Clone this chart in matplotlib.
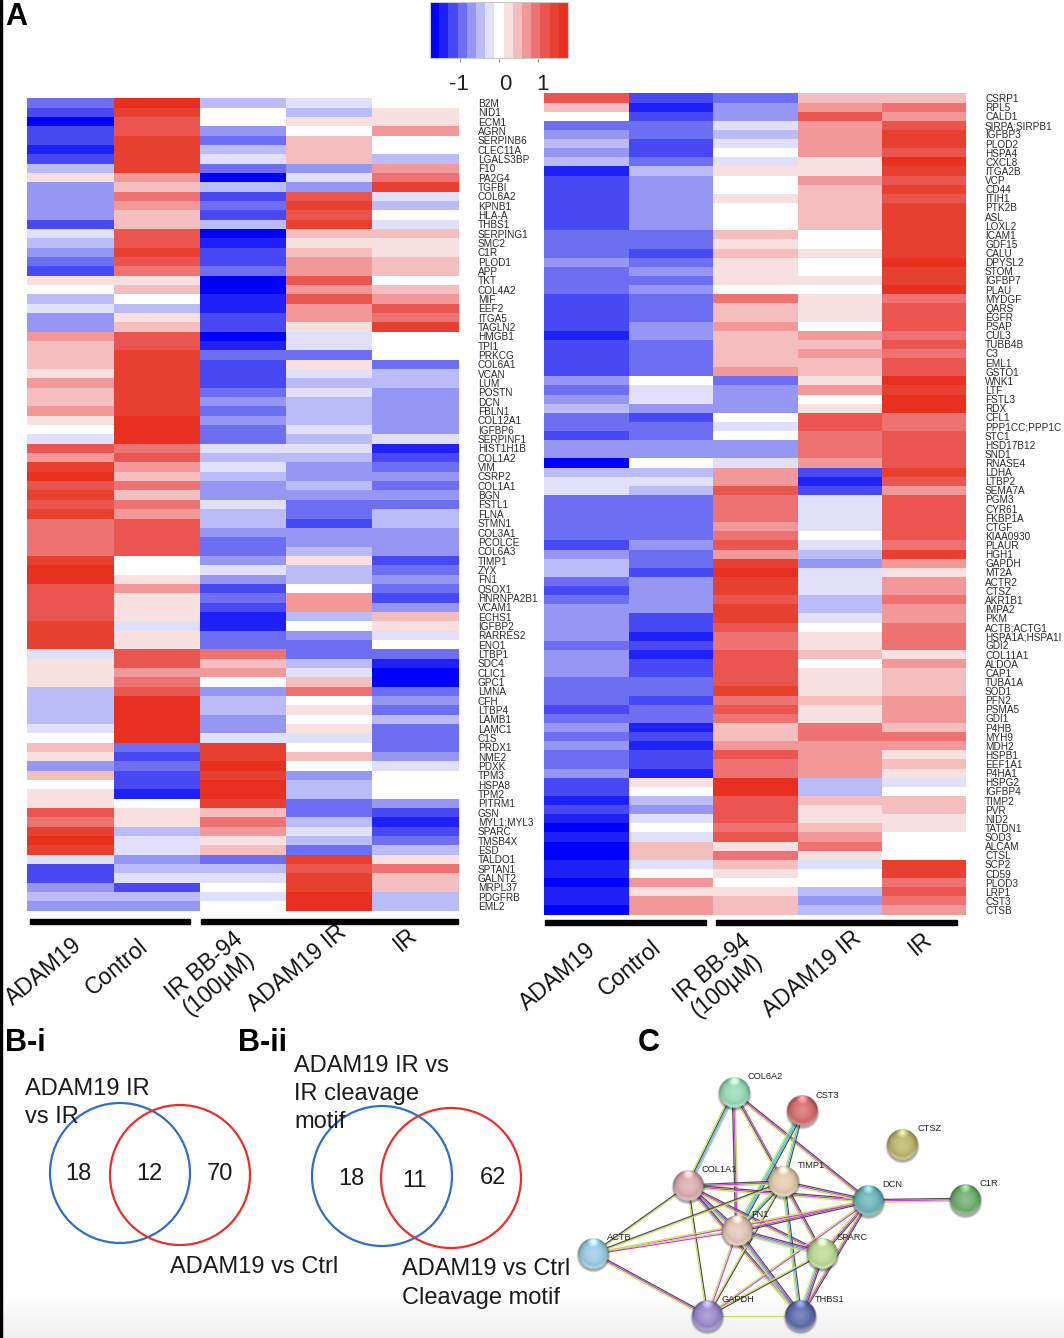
import numpy as np
import matplotlib
matplotlib.use("Agg")
import matplotlib.pyplot as plt
from matplotlib.colors import ListedColormap, Normalize
from matplotlib.patches import Circle, Rectangle

plt.rcParams['font.family'] = ['Liberation Sans', 'DejaVu Sans']

W, H = 1064, 1338

# Heatmap values are the colour bin of each cell, 7 is the white (zero) bin
left_genes = [
    "B2M", "NID1", "ECM1", "AGRN", "SERPINB6", "CLEC11A", "LGALS3BP", "F10", "PA2G4", "TGFBI",
    "COL6A2", "KPNB1", "HLA-A", "THBS1", "SERPING1", "SMC2", "C1R", "PLOD1", "APP", "TKT",
    "COL4A2", "MIF", "EEF2", "ITGA5", "TAGLN2", "HMGB1", "TPI1", "PRKCG", "COL6A1", "VCAN",
    "LUM", "POSTN", "DCN", "FBLN1", "COL12A1", "IGFBP6", "SERPINF1", "HIST1H1B", "COL1A2", "VIM",
    "CSRP2", "COL1A1", "BGN", "FSTL1", "FLNA", "STMN1", "COL3A1", "PCOLCE", "COL6A3", "TIMP1",
    "ZYX", "FN1", "QSOX1", "HNRNPA2B1", "VCAM1", "ECHS1", "IGFBP2", "RARRES2", "ENO1", "LTBP1",
    "SDC4", "CLIC1", "GPC1", "LMNA", "CFH", "LTBP4", "LAMB1", "LAMC1", "C1S", "PRDX1",
    "NME2", "PDXK", "TPM3", "HSPA8", "TPM2", "PITRM1", "GSN", "MYL1;MYL3", "SPARC", "TMSB4X",
    "ESD", "TALDO1", "SPTAN1", "GALNT2", "MRPL37", "PDGFRB", "EML2",
]
left_adam19 = [
    3, 2, 0, 2, 2, 1, 2, 5, 8, 4, 4, 4, 4, 2, 6, 5, 4, 3, 2, 8, 7, 5, 6, 4, 4, 10, 9, 9, 9, 8,
    10, 9, 9, 10, 8, 7, 6, 12, 10, 13, 14, 12, 13, 12, 13, 11, 11, 11, 11, 13, 14, 14, 12, 12, 12, 12, 13, 13, 13, 6,
    8, 8, 8, 5, 5, 5, 5, 6, 7, 9, 8, 4, 9, 7, 8, 8, 12, 11, 13, 14, 13, 6, 2, 2, 4, 5, 4,
]
left_control = [
    14, 13, 12, 12, 13, 13, 13, 13, 10, 9, 11, 10, 9, 9, 12, 12, 13, 12, 11, 8, 9, 7, 5, 8, 9, 12, 12, 13, 13, 13,
    13, 13, 13, 13, 14, 14, 14, 11, 12, 10, 9, 11, 9, 11, 10, 12, 12, 12, 12, 7, 7, 8, 10, 8, 8, 8, 6, 8, 8, 12,
    12, 10, 11, 12, 14, 14, 14, 14, 14, 3, 2, 3, 2, 2, 1, 7, 8, 8, 5, 6, 6, 4, 5, 6, 2, 5, 4,
]
left_ir_bb94 = [
    5, 7, 7, 4, 3, 5, 6, 3, 0, 5, 2, 3, 2, 5, 0, 1, 2, 2, 3, 0, 0, 1, 1, 2, 2, 0, 1, 3, 2, 2,
    2, 3, 4, 3, 4, 3, 3, 6, 5, 6, 5, 4, 4, 6, 5, 5, 4, 3, 3, 4, 6, 4, 2, 3, 2, 1, 1, 3, 3, 11,
    9, 10, 7, 4, 5, 5, 4, 4, 6, 13, 13, 14, 13, 14, 14, 13, 9, 11, 10, 8, 9, 3, 5, 6, 7, 6, 7,
]
left_adam19_ir = [
    6, 5, 8, 7, 9, 9, 9, 4, 6, 4, 12, 13, 12, 13, 9, 8, 9, 10, 10, 12, 10, 12, 10, 10, 8, 6, 6, 3, 8, 6,
    5, 6, 5, 5, 5, 6, 5, 6, 5, 4, 4, 5, 4, 3, 3, 2, 4, 4, 5, 8, 5, 5, 7, 10, 10, 5, 7, 4, 3, 3,
    5, 6, 9, 11, 7, 8, 7, 8, 6, 7, 9, 7, 4, 5, 5, 3, 3, 5, 6, 5, 3, 13, 12, 13, 13, 14, 14,
]
left_ir = [
    7, 8, 8, 10, 7, 7, 5, 10, 11, 13, 6, 5, 7, 6, 9, 8, 8, 9, 9, 7, 9, 10, 12, 11, 13, 7, 7, 7, 3, 5,
    5, 4, 4, 4, 4, 4, 6, 1, 2, 3, 4, 3, 4, 3, 5, 5, 4, 4, 4, 2, 3, 4, 3, 2, 4, 9, 8, 6, 7, 3,
    1, 0, 0, 3, 4, 3, 5, 3, 3, 3, 4, 6, 7, 7, 7, 4, 2, 1, 2, 3, 5, 8, 11, 9, 9, 5, 5,
]

right_genes = [
    "CSRP1", "RPL5", "CALD1", "SIRPA;SIRPB1", "IGFBP3", "PLOD2", "HSPA4", "CXCL8", "ITGA2B", "VCP",
    "CD44", "ITIH1", "PTK2B", "ASL", "LOXL2", "ICAM1", "GDF15", "CALU", "DPYSL2", "STOM",
    "IGFBP7", "PLAU", "MYDGF", "QARS", "EGFR", "PSAP", "CUL3", "TUBB4B", "C3", "EML1",
    "GSTO1", "WNK1", "LTF", "FSTL3", "RDX", "CFL1", "PPP1CC;PPP1C", "STC1", "HSD17B12", "SND1",
    "RNASE4", "LDHA", "LTBP2", "SEMA7A", "PGM3", "CYR61", "FKBP1A", "CTGF", "KIAA0930", "PLAUR",
    "HGH1", "GAPDH", "MT2A", "ACTR2", "CTSZ", "AKR1B1", "IMPA2", "PKM", "ACTB;ACTG1", "HSPA1A;HSPA1I",
    "GDI2", "COL11A1", "ALDOA", "CAP1", "TUBA1A", "SOD1", "PFN2", "PSMA5", "GDI1", "P4HB",
    "MYH9", "MDH2", "HSPB1", "EEF1A1", "P4HA1", "HSPG2", "IGFBP4", "TIMP2", "PVR", "NID2",
    "TATDN1", "SOD3", "ALCAM", "CTSL", "SCP2", "CD59", "PLOD3", "LRP1", "CST3", "CTSB",
]
right_adam19 = [
    12, 9, 7, 3, 4, 5, 4, 5, 1, 2, 2, 2, 2, 2, 2, 3, 3, 3, 4, 3, 3, 3, 2, 2, 2, 2, 1, 2, 2, 2,
    2, 4, 3, 4, 5, 3, 3, 2, 4, 4, 0, 5, 6, 6, 3, 3, 3, 3, 3, 2, 4, 5, 5, 3, 2, 3, 4, 4, 4, 4,
    3, 4, 4, 4, 3, 3, 3, 2, 3, 4, 3, 4, 3, 3, 4, 2, 2, 1, 2, 1, 0, 1, 0, 0, 1, 1, 0, 1, 1, 0,
]
right_control = [
    2, 1, 2, 3, 3, 2, 2, 3, 5, 4, 4, 4, 4, 4, 4, 3, 3, 2, 3, 4, 3, 4, 3, 3, 3, 4, 4, 3, 3, 3,
    3, 7, 6, 6, 4, 2, 3, 3, 4, 4, 7, 5, 6, 5, 3, 3, 3, 3, 3, 4, 3, 3, 2, 4, 4, 4, 4, 2, 2, 1,
    2, 1, 2, 2, 3, 3, 2, 3, 3, 1, 2, 1, 2, 2, 1, 8, 7, 5, 4, 6, 7, 6, 9, 9, 6, 7, 10, 8, 10, 10,
]
right_ir_bb94 = [
    3, 4, 4, 6, 5, 6, 7, 6, 8, 7, 7, 8, 7, 7, 7, 9, 8, 9, 8, 8, 8, 7, 11, 9, 9, 10, 9, 9, 9, 9,
    10, 3, 4, 4, 4, 7, 6, 7, 4, 4, 6, 10, 10, 12, 11, 11, 11, 10, 11, 12, 10, 13, 14, 13, 13, 12, 13, 13, 12, 11,
    11, 12, 12, 12, 12, 13, 11, 12, 11, 9, 9, 10, 12, 11, 11, 14, 14, 12, 12, 12, 11, 12, 8, 11, 9, 8, 7, 8, 9, 9,
]
right_adam19_ir = [
    9, 10, 12, 10, 10, 10, 10, 8, 8, 10, 9, 9, 9, 9, 9, 7, 7, 8, 7, 7, 8, 7, 8, 8, 8, 7, 10, 9, 10, 9,
    9, 8, 10, 7, 8, 12, 12, 11, 11, 11, 10, 2, 1, 2, 6, 6, 6, 6, 7, 6, 5, 4, 6, 6, 6, 5, 5, 6, 7, 8,
    8, 9, 7, 8, 8, 8, 9, 8, 8, 11, 11, 10, 10, 10, 10, 5, 5, 9, 8, 8, 9, 10, 11, 8, 6, 7, 7, 5, 4, 5,
]
right_ir = [
    9, 11, 10, 12, 13, 13, 12, 14, 13, 12, 13, 12, 13, 13, 13, 13, 13, 13, 14, 13, 13, 14, 11, 12, 12, 12, 11, 12, 11, 12,
    12, 14, 13, 14, 14, 11, 11, 12, 12, 12, 12, 13, 12, 10, 12, 12, 12, 12, 12, 11, 13, 10, 8, 10, 10, 11, 10, 10, 11, 11,
    11, 8, 10, 9, 9, 9, 10, 10, 10, 9, 11, 10, 8, 9, 8, 6, 7, 9, 9, 8, 8, 7, 7, 7, 13, 13, 11, 12, 11, 10,
]

group_labels = ["ADAM19", "Control", "IR BB-94\n(100µM)", "ADAM19 IR", "IR"]
colorbar_ticks = [-1, 0, 1]

# Venn counts: only first, overlap, only second
venn_i = [18, 12, 70]
venn_ii = [18, 11, 62]

# STRING network
node_names = ["COL6A2", "CST3", "CTSZ", "COL1A1", "TIMP1", "DCN", "C1R", "FN1", "ACTB", "SPARC", "GAPDH", "THBS1"]
node_colors = ["#8fd8b0", "#d25f5f", "#b8b05f", "#d8a6a8", "#e2c8a8", "#5fb0b2", "#62a862", "#e2c0ae",
               "#90c8e2", "#b8d88e", "#9080c8", "#4f5fa8"]
G, M, K, C, L = "#c8e05a", "#d040e0", "#505050", "#50c0e0", "#b0b0f0"
edges = [
    ("COL6A2", "COL1A1", [L, C, K, G]), ("COL6A2", "FN1", [G, M, K]), ("COL6A2", "TIMP1", [M, K, G]),
    ("COL6A2", "DCN", [K, M, G]), ("CST3", "TIMP1", [K, C, G]), ("CST3", "FN1", [K, C, C, G]),
    ("COL1A1", "TIMP1", [K, M, G]), ("COL1A1", "DCN", [K, M, G]), ("COL1A1", "FN1", [K, M, C, G]),
    ("COL1A1", "SPARC", [K, M, G]), ("COL1A1", "THBS1", [K, M, G]), ("COL1A1", "ACTB", [G, K]),
    ("COL1A1", "GAPDH", [K, G]), ("TIMP1", "DCN", [K, M, G]), ("TIMP1", "FN1", [K, C, G]),
    ("TIMP1", "SPARC", [K, M, G]), ("TIMP1", "THBS1", [K, C, G]), ("TIMP1", "ACTB", [G, K]),
    ("TIMP1", "GAPDH", [K, G]), ("DCN", "C1R", [K, M, G]), ("DCN", "FN1", [K, M, G]),
    ("DCN", "SPARC", [K, M, G]), ("DCN", "THBS1", [K, M, G]), ("DCN", "GAPDH", [M, G]),
    ("DCN", "ACTB", [M, G]), ("FN1", "SPARC", [K, M, C, G]), ("FN1", "THBS1", [K, M, C, G]),
    ("FN1", "ACTB", [M, G]), ("FN1", "GAPDH", [M, G]), ("SPARC", "THBS1", [K, M, C, G]),
    ("SPARC", "GAPDH", [K, G]), ("ACTB", "GAPDH", [K, M, G]), ("GAPDH", "THBS1", [G]),
]

# Layout of the network, in image pixels
node_x = [733.7, 802, 902.3, 687.7, 783.3, 868.3, 965, 737, 593, 822, 707.3, 800.3]
node_y = [1092.7, 1111, 1144.7, 1186.3, 1182.3, 1201, 1199.7, 1231, 1253.7, 1253.7, 1316, 1316]
label_x = [748, 816, 917, 702, 797.7, 882, 979, 751, 607, 836.7, 721.7, 815]
label_y = [1076.5, 1095, 1128.5, 1170, 1166, 1184.5, 1183, 1214.5, 1237.5, 1237.5, 1299, 1299]

bin_colors = ["#0000ff", "#2020f8", "#4848f5", "#6e6ef2", "#9696f5", "#bbbbf7", "#e0e0fa", "#ffffff",
              "#f8e0e0", "#f4bebe", "#f29898", "#ee7272", "#ea5550", "#e84030", "#e83020"]
cmap = ListedColormap(bin_colors)
z_limit = 1.79
bin_width = 2 * z_limit / 15
norm = Normalize(-z_limit, z_limit)


def axes_px(x0, y0, x1, y1, **kwargs):
    return fig.add_axes([x0 / W, 1 - y1 / H, (x1 - x0) / W, (y1 - y0) / H], **kwargs)


def heatmap(box, columns, genes, pad):
    ax = axes_px(*box)
    values = (np.array(columns).T - 7) * bin_width
    ax.pcolormesh(np.arange(6), np.arange(len(genes) + 1), values, cmap=cmap, norm=norm,
                  edgecolors='none', antialiased=False)
    ax.set_ylim(len(genes), 0)
    ax.set_xticks([])
    ax.yaxis.tick_right()
    ax.set_yticks(np.arange(len(genes)) + 0.5)
    ax.set_yticklabels(genes, fontsize=7.2, color="#2a2a2a")
    ax.tick_params(axis='y', length=0, pad=pad)
    for spine in ax.spines.values():
        spine.set_visible(False)
    return ax


def sphere(ax, x, y, r, color):
    # shaded ball with a small shadow under it
    n = 64
    yy, xx = np.mgrid[-1.3:1.3:n * 1j, -1.3:1.3:n * 1j]
    rgb = np.array(matplotlib.colors.to_rgb(color))
    shadow = np.clip((1.12 - np.hypot(xx, yy - 0.12)) / 0.15, 0, 1) * 0.35
    img = np.zeros((n, n, 4))
    img[..., 3] = shadow
    ax.imshow(img, extent=(x - 1.3 * r, x + 1.3 * r, y + 1.3 * r, y - 1.3 * r), zorder=3, aspect='auto')
    d = np.hypot(xx, yy)
    shade = 1 - 0.4 * d ** 5
    pale = 0.3 * np.clip(1 - d, 0, 1)
    glow = np.clip(0.4 - np.hypot(xx, yy + 0.85) * 0.9, 0, 1)
    rim = np.clip((d - 0.72) / 0.28, 0, 1) * np.clip(yy + 0.2, 0, 1) * 0.35
    img = np.zeros((n, n, 4))
    for i in range(3):
        base = rgb[i] * shade
        img[..., i] = np.clip(base + (1 - base) * pale + glow + rim, 0, 1)
    img[..., 3] = np.clip((1 - d) * 20, 0, 1)
    ax.imshow(img, extent=(x - 1.3 * r, x + 1.3 * r, y + 1.3 * r, y - 1.3 * r), zorder=4, aspect='auto')


fig = plt.figure(figsize=(W / 100, H / 100), dpi=100, facecolor='white')

# Full image overlay in pixel coordinates, for everything that is not a heatmap
page = axes_px(0, 0, W, H)
page.set_xlim(0, W)
page.set_ylim(H, 0)
page.axis('off')
page.set_autoscale_on(False)

fade = np.ones((48, 2))
fade[:, 0] = fade[:, 1] = np.linspace(1.0, 0.935, 48)
page.imshow(fade, extent=(0, W, H, 1290), cmap='gray', vmin=0, vmax=1, aspect='auto', zorder=0)
page.add_patch(Rectangle((0, 0), 2, H, color='black', zorder=1))

heatmap((27.4, 98.3, 458.5, 910.7), [left_adam19, left_control, left_ir_bb94, left_adam19_ir, left_ir], left_genes, 14)
heatmap((544.3, 93.4, 966.4, 914.6), [right_adam19, right_control, right_ir_bb94, right_adam19_ir, right_ir], right_genes, 13.4)

# Colour key
key = axes_px(430, 2, 568, 58)
edges_z = np.linspace(-z_limit, z_limit, 16)
key.pcolormesh(edges_z, [0, 1], ((edges_z[:-1] + edges_z[1:]) / 2)[None, :], cmap=cmap, norm=norm, antialiased=False)
key.set_yticks([])
key.set_xticks(colorbar_ticks)
key.set_xticklabels([])
key.tick_params(axis='x', length=3, width=0.8, color="#999999")
for spine in key.spines.values():
    spine.set_color("#c8c8c8")
    spine.set_linewidth(0.8)
for tick, x in zip(colorbar_ticks, [459, 505, 543]):
    page.text(x, 85, str(tick), fontsize=16, ha='center', va='center', color="#222222")

# Panel letters
for text, x, y in [("A", 5, 17), ("B-i", 5, 1043), ("B-ii", 238, 1043), ("C", 638, 1043)]:
    page.text(x, y, text, fontsize=22, fontweight='bold', ha='left', va='center', color='black')

# Group bars and labels under the heatmaps
for x0, x1, y in [(30, 190, 921), (201, 458, 921), (545, 705.5, 922), (716, 957, 922)]:
    page.add_patch(Rectangle((x0, y - 2.5), x1 - x0, 5, color='black', zorder=2))
for label, x, y in zip(group_labels, [44, 117, 212, 297, 405], [972, 967, 975, 968, 940]):
    page.text(x, y, label, fontsize=16.5, rotation=40, ha='center', va='center', multialignment='center', linespacing=1.0, color="#111111")
for label, x, y in zip(group_labels, [558, 630, 720, 812, 920], [977, 968, 977, 974, 944]):
    page.text(x, y, label, fontsize=16.5, rotation=40, ha='center', va='center', multialignment='center', linespacing=1.0, color="#111111")

# Venn diagrams
for cx, cy, color in [(120, 1173, "#2f6fc4"), (180, 1175, "#e8302a"), (382, 1176, "#2f6fc4"), (451, 1178, "#e8302a")]:
    page.add_patch(Circle((cx, cy), 70, fill=False, edgecolor=color, linewidth=1.6, zorder=2))
for value, x, y in zip(venn_i + venn_ii, [78, 149, 220, 351, 414, 493], [1174, 1174, 1174, 1179, 1181, 1178]):
    page.text(x, y, str(value), fontsize=17, ha='center', va='center', color="#1a1a1a")
venn_labels = [("ADAM19 IR", 25, 1089), ("vs IR", 25, 1117), ("ADAM19 vs Ctrl", 170, 1267),
               ("ADAM19 IR vs", 294, 1066), ("IR cleavage", 294, 1094), ("motif", 294, 1122),
               ("ADAM19 vs Ctrl", 402, 1269), ("Cleavage motif", 402, 1298)]
for text, x, y in venn_labels:
    page.text(x, y, text, fontsize=17, ha='left', va='center', color="#1a1a1a", zorder=5)

# Network: each edge is a bundle of thin parallel lines, one per evidence type
pos = {name: np.array([x, y]) for name, x, y in zip(node_names, node_x, node_y)}
for a, b, colors in edges:
    d = pos[b] - pos[a]
    perp = np.array([-d[1], d[0]]) / np.hypot(*d)
    for i, color in enumerate(colors):
        off = perp * (i - (len(colors) - 1) / 2) * 1.4
        page.plot([pos[a][0] + off[0], pos[b][0] + off[0]], [pos[a][1] + off[1], pos[b][1] + off[1]],
                  color=color, linewidth=0.9, zorder=2, solid_capstyle='butt')
for name, color, lx, ly in zip(node_names, node_colors, label_x, label_y):
    sphere(page, pos[name][0], pos[name][1], 15.5, color)
    page.text(lx, ly, name, fontsize=6.7, ha='left', va='center', color="#222222", zorder=6)
page.set_xlim(0, W)
page.set_ylim(H, 0)

fig.savefig("out.png", dpi=100)
